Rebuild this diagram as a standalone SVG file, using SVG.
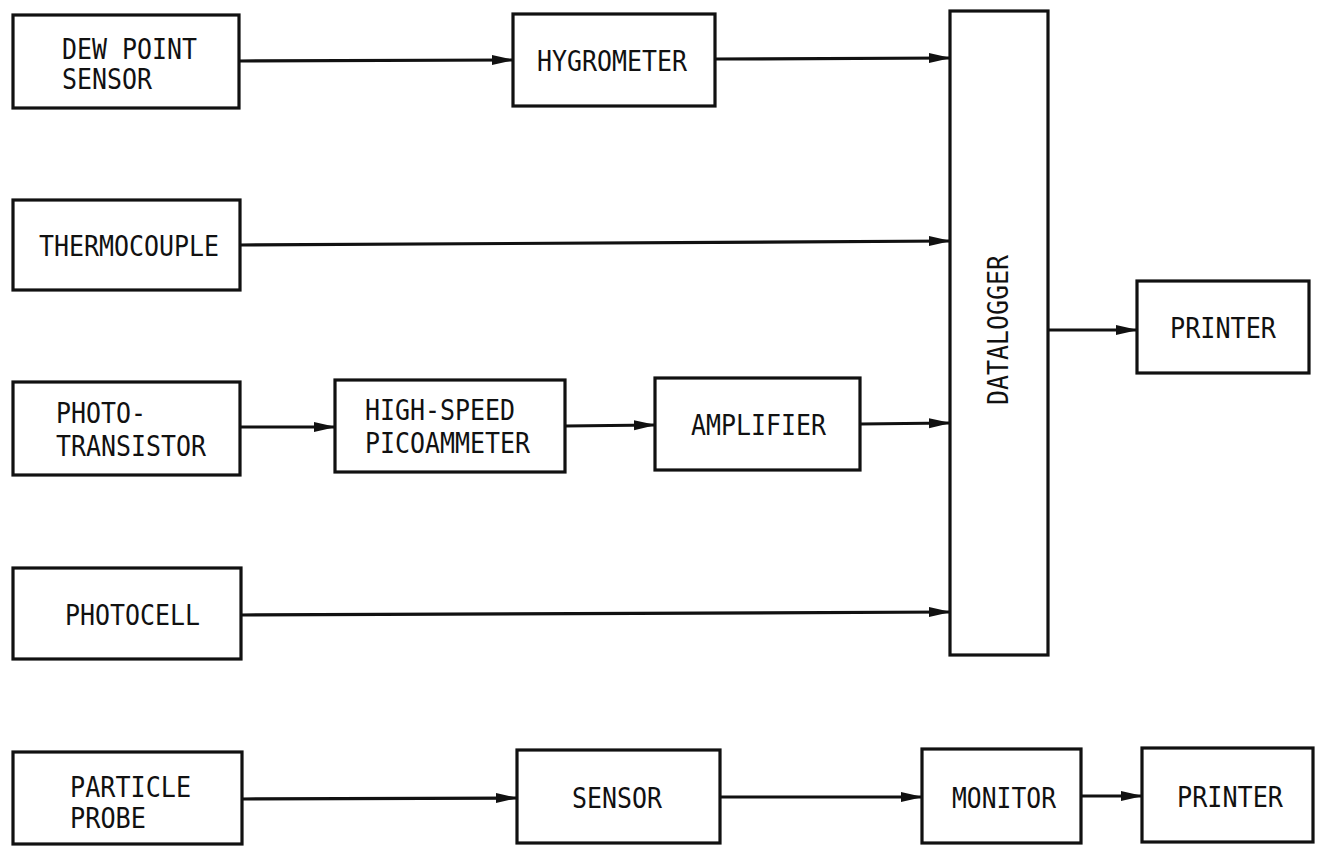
<svg xmlns="http://www.w3.org/2000/svg" width="1324" height="846" viewBox="0 0 1324 846">
<style>
  .box { fill: #ffffff; stroke: #111111; stroke-width: 3.2; }
  .lbl { font-family: "DejaVu Sans Mono", "Liberation Mono", monospace; font-size: 28px; fill: #111111; }
  .conn line { stroke: #111111; stroke-width: 3.2; fill: none; marker-end: url(#arrow); }
</style>
<defs>
  <marker id="arrow" markerUnits="userSpaceOnUse" markerWidth="22" markerHeight="11" refX="21" refY="5.5" orient="auto">
    <path d="M0,0.5 L22,5.5 L0,10.5 Z" fill="#111111"/>
  </marker>
</defs>
<rect width="1324" height="846" fill="#ffffff"/>

<g id="connectors" class="conn">
  <line x1="239" y1="61" x2="513" y2="60"/>
  <line x1="715" y1="59" x2="950" y2="58"/>
  <line x1="240" y1="245" x2="950" y2="241"/>
  <line x1="1048" y1="330" x2="1137" y2="330"/>
  <line x1="240" y1="427" x2="335" y2="427"/>
  <line x1="565" y1="426" x2="655" y2="425"/>
  <line x1="860" y1="424" x2="950" y2="423"/>
  <line x1="241" y1="615" x2="950" y2="612"/>
  <line x1="242" y1="799" x2="517" y2="798"/>
  <line x1="720" y1="797" x2="922" y2="797"/>
  <line x1="1081" y1="796" x2="1142" y2="796"/>
</g>

<g id="dew-point-sensor">
  <rect class="box" x="13" y="15" width="226" height="93"/>
  <text class="lbl" x="62" y="59" textLength="135" lengthAdjust="spacingAndGlyphs">DEW POINT</text>
  <text class="lbl" x="62" y="89" textLength="90" lengthAdjust="spacingAndGlyphs">SENSOR</text>
</g>
<g id="hygrometer">
  <rect class="box" x="513" y="14" width="202" height="92"/>
  <text class="lbl" x="537" y="71" textLength="150" lengthAdjust="spacingAndGlyphs">HYGROMETER</text>
</g>
<g id="datalogger">
  <rect class="box" x="950" y="11" width="98" height="644"/>
  <text class="lbl" transform="translate(1008,330) rotate(-90)" x="-75" y="0" textLength="150" lengthAdjust="spacingAndGlyphs">DATALOGGER</text>
</g>
<g id="thermocouple">
  <rect class="box" x="13" y="200" width="227" height="90"/>
  <text class="lbl" x="39" y="256" textLength="180" lengthAdjust="spacingAndGlyphs">THERMOCOUPLE</text>
</g>
<g id="printer-1">
  <rect class="box" x="1137" y="281" width="172" height="92"/>
  <text class="lbl" x="1170" y="338" textLength="106" lengthAdjust="spacingAndGlyphs">PRINTER</text>
</g>
<g id="phototransistor">
  <rect class="box" x="13" y="382" width="227" height="93"/>
  <text class="lbl" x="56" y="423" textLength="90" lengthAdjust="spacingAndGlyphs">PHOTO-</text>
  <text class="lbl" x="56" y="456" textLength="150" lengthAdjust="spacingAndGlyphs">TRANSISTOR</text>
</g>
<g id="picoammeter">
  <rect class="box" x="335" y="380" width="230" height="92"/>
  <text class="lbl" x="365" y="420" textLength="150" lengthAdjust="spacingAndGlyphs">HIGH-SPEED</text>
  <text class="lbl" x="365" y="453" textLength="165" lengthAdjust="spacingAndGlyphs">PICOAMMETER</text>
</g>
<g id="amplifier">
  <rect class="box" x="655" y="378" width="205" height="92"/>
  <text class="lbl" x="691" y="435" textLength="135" lengthAdjust="spacingAndGlyphs">AMPLIFIER</text>
</g>
<g id="photocell">
  <rect class="box" x="13" y="568" width="228" height="91"/>
  <text class="lbl" x="65" y="625" textLength="135" lengthAdjust="spacingAndGlyphs">PHOTOCELL</text>
</g>
<g id="particle-probe">
  <rect class="box" x="13" y="752" width="229" height="92"/>
  <text class="lbl" x="70" y="797" textLength="121" lengthAdjust="spacingAndGlyphs">PARTICLE</text>
  <text class="lbl" x="70" y="828" textLength="76" lengthAdjust="spacingAndGlyphs">PROBE</text>
</g>
<g id="sensor">
  <rect class="box" x="517" y="750" width="203" height="93"/>
  <text class="lbl" x="572" y="808" textLength="90" lengthAdjust="spacingAndGlyphs">SENSOR</text>
</g>
<g id="monitor">
  <rect class="box" x="922" y="749" width="159" height="94"/>
  <text class="lbl" x="952" y="808" textLength="104" lengthAdjust="spacingAndGlyphs">MONITOR</text>
</g>
<g id="printer-2">
  <rect class="box" x="1142" y="748" width="171" height="94"/>
  <text class="lbl" x="1177" y="807" textLength="106" lengthAdjust="spacingAndGlyphs">PRINTER</text>
</g>
</svg>
